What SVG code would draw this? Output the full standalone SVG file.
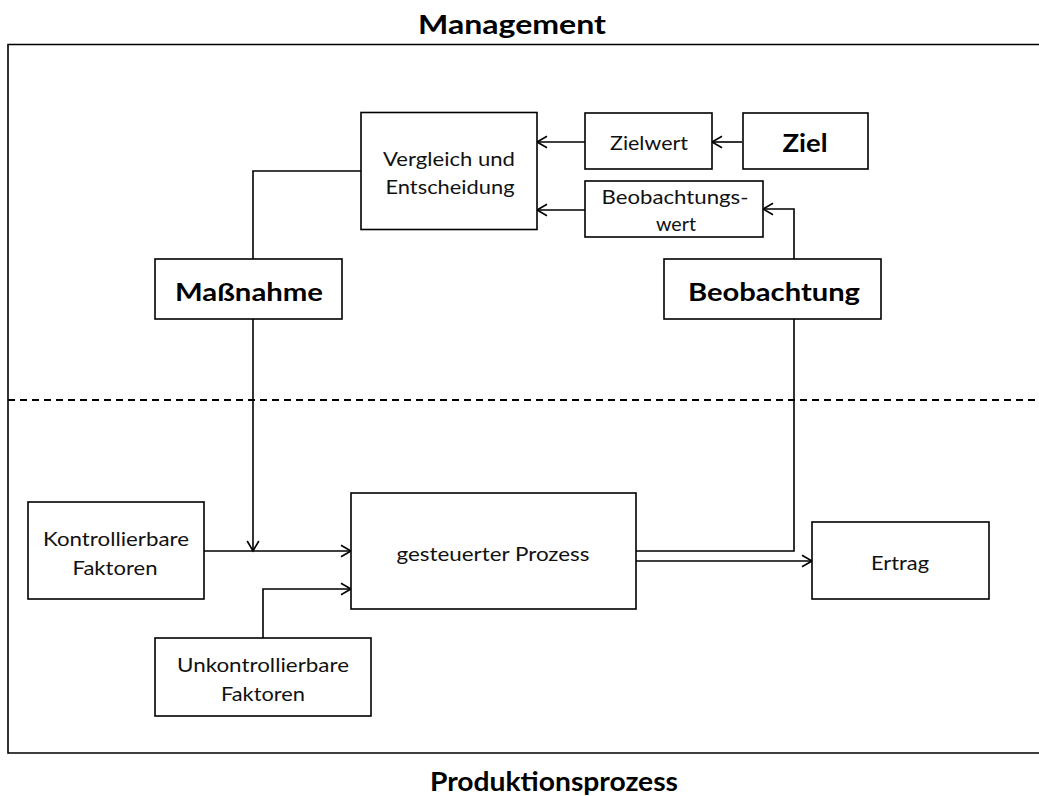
<svg xmlns="http://www.w3.org/2000/svg" width="1039" height="796" viewBox="0 0 1039 796">
<style>
.box{fill:#fff;stroke:#000;stroke-width:1.6}
.ln{fill:none;stroke:#000;stroke-width:1.6}
.t{font-family:Lato,"Liberation Sans",sans-serif;font-size:19px;fill:#111;text-anchor:middle;dominant-baseline:central}
.b{font-family:Lato,"Liberation Sans",sans-serif;font-weight:bold;font-size:25px;fill:#000;text-anchor:middle;dominant-baseline:central}
.h{font-family:Lato,"Liberation Sans",sans-serif;font-weight:bold;font-size:26px;fill:#000;text-anchor:middle;dominant-baseline:central}
</style>
<defs>
<marker id="a" markerUnits="userSpaceOnUse" markerWidth="14" markerHeight="14" viewBox="0 0 14 14" refX="11.5" refY="7" orient="auto">
<path d="M1.5,1.2 L11.5,7 L1.5,12.8" fill="none" stroke="#000" stroke-width="1.6"/>
</marker>
</defs>
<rect width="1039" height="796" fill="#fff"/>
<g id="frame">
<path class="ln" d="M1039,44.5 H8 V753 H1039" stroke-width="2.2"/>
<line x1="8" y1="400" x2="1039" y2="400" stroke="#000" stroke-width="1.8" stroke-dasharray="7,5"/>
<text class="h" x="512" y="24" textLength="188" lengthAdjust="spacingAndGlyphs">Management</text>
<text class="h" x="554" y="781" textLength="248" lengthAdjust="spacingAndGlyphs">Produktionsprozess</text>
</g>
<g id="connectors">
<path class="ln" d="M585,142 H537" marker-end="url(#a)"/>
<path class="ln" d="M742,142 H712" marker-end="url(#a)"/>
<path class="ln" d="M585,210 H537" marker-end="url(#a)"/>
<path class="ln" d="M794,259 V209 H763" marker-end="url(#a)"/>
<path class="ln" d="M361,171 H253 V259"/>
<path class="ln" d="M253,319 V551" marker-end="url(#a)"/>
<path class="ln" d="M204,551 H351" marker-end="url(#a)"/>
<path class="ln" d="M263,638 V589 H351" marker-end="url(#a)"/>
<path class="ln" d="M636,551 H794 V319"/>
<path class="ln" d="M636,561 H812" marker-end="url(#a)"/>
</g>
<g id="vergleich">
<rect class="box" x="361" y="112.5" width="176" height="117"/>
<text class="t" x="449" y="158" textLength="132" lengthAdjust="spacingAndGlyphs">Vergleich und</text>
<text class="t" x="450" y="186" textLength="129" lengthAdjust="spacingAndGlyphs">Entscheidung</text>
</g>
<g id="zielwert">
<rect class="box" x="585" y="113" width="127" height="56"/>
<text class="t" x="649" y="142" textLength="78" lengthAdjust="spacingAndGlyphs">Zielwert</text>
</g>
<g id="ziel">
<rect class="box" x="743" y="113" width="125" height="56"/>
<text class="b" x="805" y="142" font-size="27" textLength="45" lengthAdjust="spacingAndGlyphs">Ziel</text>
</g>
<g id="beobachtungswert">
<rect class="box" x="585" y="181" width="178" height="56"/>
<text class="t" x="675" y="196" textLength="147" lengthAdjust="spacingAndGlyphs">Beobachtungs-</text>
<text class="t" x="676" y="223" textLength="40" lengthAdjust="spacingAndGlyphs">wert</text>
</g>
<g id="massnahme">
<rect class="box" x="155" y="259" width="187" height="60"/>
<text class="b" x="249" y="291" textLength="148" lengthAdjust="spacingAndGlyphs">Maßnahme</text>
</g>
<g id="beobachtung">
<rect class="box" x="664" y="259" width="217" height="60"/>
<text class="b" x="774" y="291" textLength="172" lengthAdjust="spacingAndGlyphs">Beobachtung</text>
</g>
<g id="kontrollierbare">
<rect class="box" x="28" y="502" width="176" height="97"/>
<text class="t" x="116" y="538" textLength="146" lengthAdjust="spacingAndGlyphs">Kontrollierbare</text>
<text class="t" x="115" y="567" textLength="85" lengthAdjust="spacingAndGlyphs">Faktoren</text>
</g>
<g id="gesteuerter">
<rect class="box" x="351" y="493" width="285" height="116"/>
<text class="t" x="493" y="553" textLength="193" lengthAdjust="spacingAndGlyphs">gesteuerter Prozess</text>
</g>
<g id="ertrag">
<rect class="box" x="812" y="522" width="177" height="77"/>
<text class="t" x="900" y="562" textLength="58" lengthAdjust="spacingAndGlyphs">Ertrag</text>
</g>
<g id="unkontrollierbare">
<rect class="box" x="155" y="638" width="216" height="78"/>
<text class="t" x="263" y="664" textLength="172" lengthAdjust="spacingAndGlyphs">Unkontrollierbare</text>
<text class="t" x="263" y="693" textLength="84" lengthAdjust="spacingAndGlyphs">Faktoren</text>
</g>
</svg>
